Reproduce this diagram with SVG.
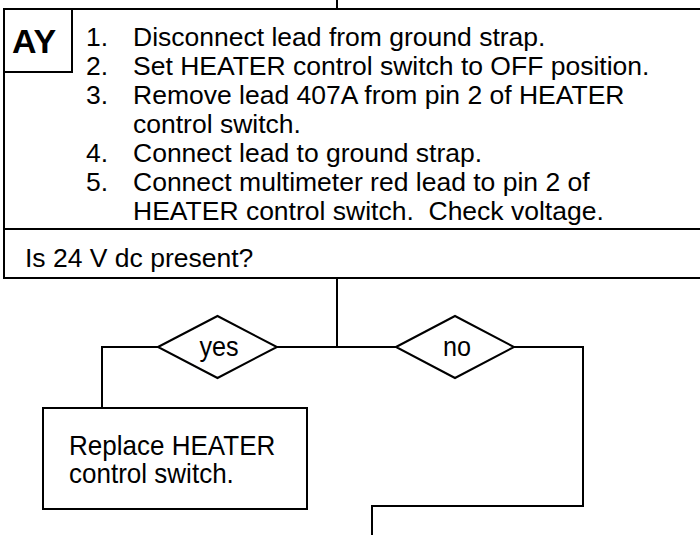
<svg xmlns="http://www.w3.org/2000/svg" width="700" height="535" viewBox="0 0 700 535">
<style>
.ln{fill:none;stroke:#000;stroke-width:2}
.box{fill:#fff;stroke:#000;stroke-width:2}
.t{font-family:"Liberation Sans",Arial,sans-serif;font-size:26.5px;fill:#000}
.n{font-family:"Liberation Sans",Arial,sans-serif;font-size:28px;fill:#000}
.b{font-family:"Liberation Sans",Arial,sans-serif;font-size:34px;font-weight:bold;fill:#000}
</style>
<rect width="700" height="535" fill="#fff"/>
<g id="connectors">
<line class="ln" x1="337" y1="0" x2="337" y2="9"/>
<line class="ln" x1="337" y1="278" x2="337" y2="347"/>
<polyline class="ln" points="158,347 102,347 102,408"/>
<line class="ln" x1="277" y1="347" x2="396" y2="347"/>
<polyline class="ln" points="514,347 583,347 583,506 372,506 372,536"/>
</g>
<g id="step-AY">
<rect class="box" x="4" y="9" width="700" height="220"/>
<rect class="box" x="4" y="9" width="68" height="63"/>
<text class="b" x="12" y="53">AY</text>
<text class="t"><tspan x="86" y="46">1.</tspan><tspan x="133" y="46">Disconnect lead from ground strap.</tspan></text>
<text class="t"><tspan x="86" y="75">2.</tspan><tspan x="133" y="75">Set HEATER control switch to OFF position.</tspan></text>
<text class="t"><tspan x="86" y="104">3.</tspan><tspan x="133" y="104">Remove lead 407A from pin 2 of HEATER</tspan></text>
<text class="t" x="133" y="133">control switch.</text>
<text class="t"><tspan x="86" y="162">4.</tspan><tspan x="133" y="162">Connect lead to ground strap.</tspan></text>
<text class="t"><tspan x="86" y="191">5.</tspan><tspan x="133" y="191">Connect multimeter red lead to pin 2 of</tspan></text>
<text class="t" x="133" y="220">HEATER control switch.&#160; Check voltage.</text>
</g>
<g id="question">
<rect class="box" x="4" y="229" width="700" height="49"/>
<text class="t" x="25" y="267">Is 24 V dc present?</text>
</g>
<g id="yes">
<polygon class="box" points="158,347 217.5,316 277,347 217.5,378"/>
<text class="n" transform="translate(219,356) scale(0.9,1)" text-anchor="middle">yes</text>
</g>
<g id="no">
<polygon class="box" points="396,347 455,316 514,347 455,378"/>
<text class="n" transform="translate(457,356) scale(0.9,1)" text-anchor="middle">no</text>
</g>
<g id="replace">
<rect class="box" x="43" y="408" width="264" height="101"/>
<text class="n" transform="translate(69,0) scale(0.93,1)"><tspan x="0" y="455">Replace HEATER</tspan><tspan x="0" y="483">control switch.</tspan></text>
</g>
</svg>
